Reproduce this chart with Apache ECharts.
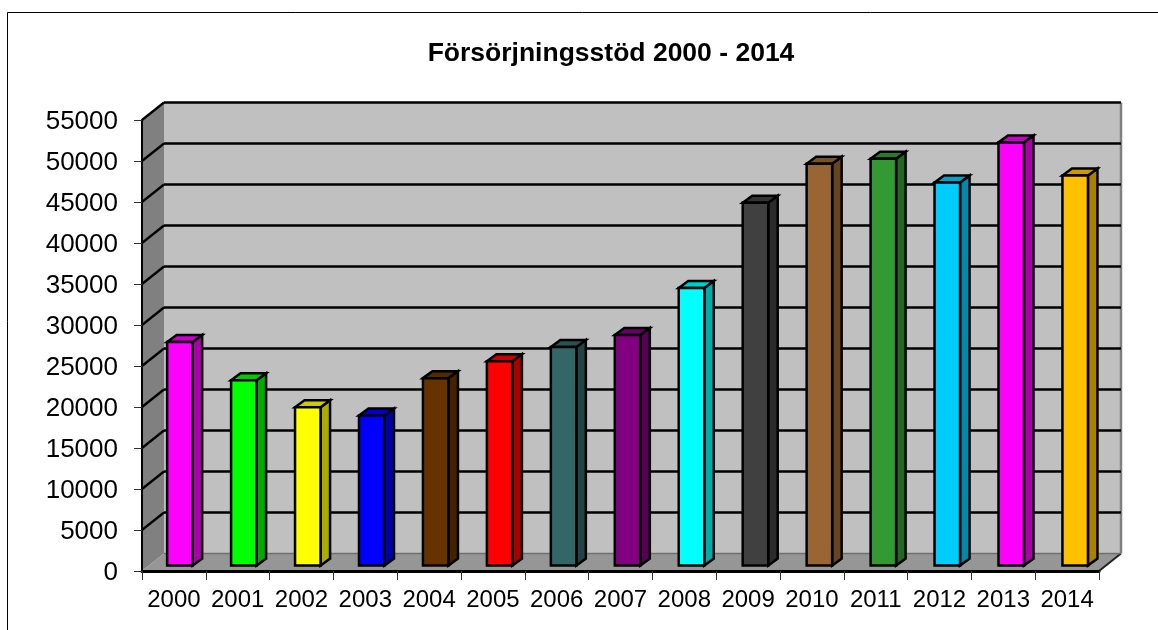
<!DOCTYPE html>
<html><head><meta charset="utf-8">
<style>html,body{margin:0;padding:0;background:#fff}#c{width:1158px;height:630px}</style>
<script src="https://cdn.jsdelivr.net/npm/echarts@6/dist/echarts.min.js"></script></head>
<body><div id="c"></div>
<script>
const categories = ['2000','2001','2002','2003','2004','2005','2006','2007','2008','2009','2010','2011','2012','2013','2014'];
const values = [27250,22600,19300,18300,22850,24900,26650,28100,33850,44250,49000,49600,46700,51600,47550];
const barColors = ['#ff00ff','#00ff00','#ffff00','#0000ff','#663300','#ff0000','#336666','#800080','#00ffff','#404040','#996633','#339933','#00ccff','#ff00ff','#ffc000'];
const yTicks = [0,5000,10000,15000,20000,25000,30000,35000,40000,45000,50000,55000];

const DEPTH_X = 22, DEPTH_Y = 17.5;    // wall depth
const OFF_X = 6, OFF_Y = 5.5;          // bar offset into the depth
const BAR_DX = 9.5, BAR_DY = 7;        // bar depth
const BAR_FRAC = 0.4;
const STEP_GAIN = 0.15;                // bars step very slightly wider than the category band

function shade(hex, f){
  const n = parseInt(hex.slice(1),16);
  const c = s => Math.round(((n>>s)&255)*f);
  return 'rgb('+c(16)+','+c(8)+','+c(0)+')';
}
function poly(points, fill, stroke, lw, z2){
  return {type:'polygon', shape:{points}, z2:z2||0,
    style:{fill, stroke:stroke||'none', lineWidth:lw||0, lineJoin:'miter'}};
}
function seg(x1,y1,x2,y2,stroke,lw){
  return {type:'line', shape:{x1,y1,x2,y2}, style:{stroke, lineWidth:lw}};
}
function renderWalls(params, api){
  const g = params.coordSys, L = g.x, R = g.x+g.width, T = g.y, B = g.y+g.height;
  const dx = DEPTH_X, dy = DEPTH_Y;
  const kids = [
    poly([[L,T],[L+dx,T-dy],[L+dx,B-dy],[L,B]], '#808080'),
    poly([[L+dx,T-dy],[R+dx,T-dy],[R+dx,B-dy],[L+dx,B-dy]], '#c0c0c0'),
    poly([[L,B],[L+dx,B-dy],[R+dx,B-dy],[R,B]], '#969696'),
    seg(R+dx,T-dy,R+dx,B-dy,'#808080',2.5),
    seg(R,B,R+dx,B-dy,'#222222',2),
    seg(L+dx,B-dy,R+dx,B-dy,'#707070',1.5)
  ];
  yTicks.forEach(v=>{
    if(v===0) return;
    const y = api.coord([0,v])[1];
    kids.push(seg(L,y,L+dx,y-dy,'#000',2.3));
    kids.push(seg(L+dx,y-dy,R+dx,y-dy,'#000',2.5));
  });
  return {type:'group', children:kids};
}
function renderBar(params, api){
  const i = api.value(0), v = api.value(1);
  const top = api.coord([i,v]), base = api.coord([i,0]);
  const w = api.size([1,0])[0]*BAR_FRAC;
  const x0 = top[0]-w/2+OFF_X+i*STEP_GAIN, x1 = x0+w, yT = top[1]-OFF_Y, yB = base[1]-OFF_Y;
  const col = barColors[i];
  return {type:'group', children:[
    poly([[x1,yT],[x1+BAR_DX,yT-BAR_DY],[x1+BAR_DX,yB-BAR_DY],[x1,yB]], shade(col,0.67), '#000', 2.5),
    poly([[x0,yT],[x0+BAR_DX,yT-BAR_DY],[x1+BAR_DX,yT-BAR_DY],[x1,yT]], shade(col,0.8), '#000', 2.5),
    poly([[x0,yT],[x1,yT],[x1,yB],[x0,yB]], col, '#000', 2.5)
  ]};
}
const chart = echarts.init(document.getElementById('c'), null, {renderer:'canvas'});
const font = '"Liberation Sans", Arial, sans-serif';
chart.setOption({
  animation:false,
  backgroundColor:'#fff',
  title:{text:'Försörjningsstöd 2000 - 2014', left:606, top:35, textAlign:'center',
    textStyle:{fontFamily:font, fontWeight:'bold', fontSize:26.5, color:'#000'}},
  grid:{left:142, right:59, top:120, bottom:59},
  xAxis:{type:'category', data:categories, z:5,
    axisLine:{show:true, lineStyle:{color:'#000', width:3}},
    axisTick:{show:true, alignWithLabel:false, length:9, lineStyle:{color:'#333', width:1}},
    axisLabel:{interval:0, color:'#000', fontFamily:font, fontSize:24, margin:17}},
  yAxis:{type:'value', min:0, max:55000, interval:5000, z:5,
    splitLine:{show:false},
    axisLine:{show:true, lineStyle:{color:'#000', width:2}},
    axisTick:{show:true, length:8, lineStyle:{color:'#333', width:1}},
    axisLabel:{color:'#000', fontFamily:font, fontSize:26, margin:24, lineHeight:32, verticalAlign:'top', padding:[-14,0,0,0], formatter:v=>String(v)}},
  graphic:[
    {type:'line', silent:true, shape:{x1:7.5,y1:12.5,x2:1158,y2:12.5}, style:{stroke:'#000',lineWidth:1}},
    {type:'line', silent:true, shape:{x1:7.5,y1:12.5,x2:7.5,y2:630}, style:{stroke:'#000',lineWidth:1}}
  ],
  series:[
    {type:'custom', silent:true, z:1, clip:false, renderItem:renderWalls, data:[[0,0]]},
    {type:'custom', silent:true, z:2, clip:false, renderItem:renderBar,
     data:values.map((v,i)=>[i,v])}
  ]
});
</script></body></html>
